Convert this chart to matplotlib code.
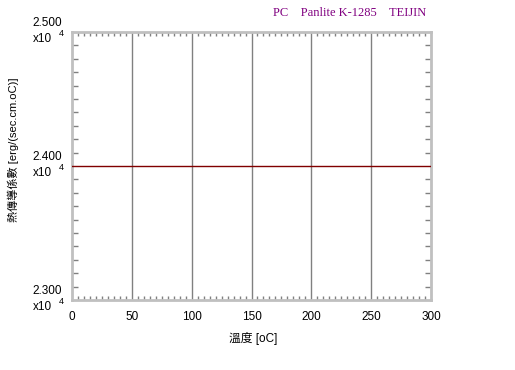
import numpy as np
import matplotlib
matplotlib.use("Agg")
import matplotlib.pyplot as plt
from matplotlib.ticker import MultipleLocator
import matplotlib.transforms as mtransforms

plt.rcParams['font.family'] = ['Liberation Sans', 'Noto Sans CJK TC']

# data
temps = [0, 300]
conductivity = [2.400e4, 2.400e4]   # erg/(sec.cm.oC)
x_ticks = [0, 50, 100, 150, 200, 250, 300]
y_ticks = [2.300e4, 2.400e4, 2.500e4]
y_tick_labels = ["2.300", "2.400", "2.500"]
title = "PC    Panlite K-1285    TEIJIN"
xlabel = "溫度 [oC]"
ylabel = "熱傳導係數 [erg/(sec.cm.oC)]"


def make_plot():
    fig = plt.figure(figsize=(5.15, 3.70), dpi=100)
    ax = fig.add_axes([72 / 515, 70 / 370, 359 / 515, 268 / 370])

    # vertical grid only
    for x in x_ticks[1:-1]:
        ax.axvline(x, color='#808080', lw=1.0, zorder=1)
    ax.plot(temps, conductivity, color='#800000', lw=1.0, zorder=3)

    ax.set_xlim(0, 300)
    ax.set_ylim(2.300e4, 2.500e4)

    ax.xaxis.set_major_locator(MultipleLocator(50))
    ax.xaxis.set_minor_locator(MultipleLocator(5))
    ax.yaxis.set_major_locator(MultipleLocator(1000))
    ax.yaxis.set_minor_locator(MultipleLocator(100))
    ax.tick_params(which='both', direction='in', top=True, right=True,
                   color='#808080', width=1)
    ax.tick_params(which='major', length=0)
    ax.tick_params(axis='x', which='minor', length=3)
    ax.tick_params(axis='y', which='minor', length=4)
    ax.tick_params(axis='x', which='major', labelsize=8.5, pad=8)
    ax.set_yticklabels([])

    for s in ax.spines.values():
        s.set_color('#c0c0c0')
        s.set_linewidth(2)

    # y tick labels: value above the line, multiplier below
    trans = mtransforms.blended_transform_factory(ax.transAxes, ax.transData)
    off = mtransforms.offset_copy
    for val, lab in zip(y_ticks, y_tick_labels):
        ax.text(-0.027, val, lab, ha='right', va='bottom', fontsize=8.5,
                transform=off(trans, fig=fig, y=3, units='dots'))
        ax.text(-0.055, val, "x10", ha='right', va='top', fontsize=8.5,
                transform=off(trans, fig=fig, y=-1, units='dots'))
        ax.text(-0.036, val, "4", ha='left', va='top', fontsize=6.5,
                transform=off(trans, fig=fig, y=3, units='dots'))

    fig.text(426 / 515, 1 - 13 / 370, title, ha='right', va='center',
             color='#800080', fontsize=9, family='Liberation Serif')
    fig.text(253 / 515, 1 - 338 / 370, xlabel, ha='center', va='center',
             fontsize=8.5)
    fig.text(13 / 515, 1 - 150 / 370, ylabel, ha='center', va='center',
             rotation=90, fontsize=8)

    fig.savefig("out.png", dpi=100)


if __name__ == "__main__":
    make_plot()
